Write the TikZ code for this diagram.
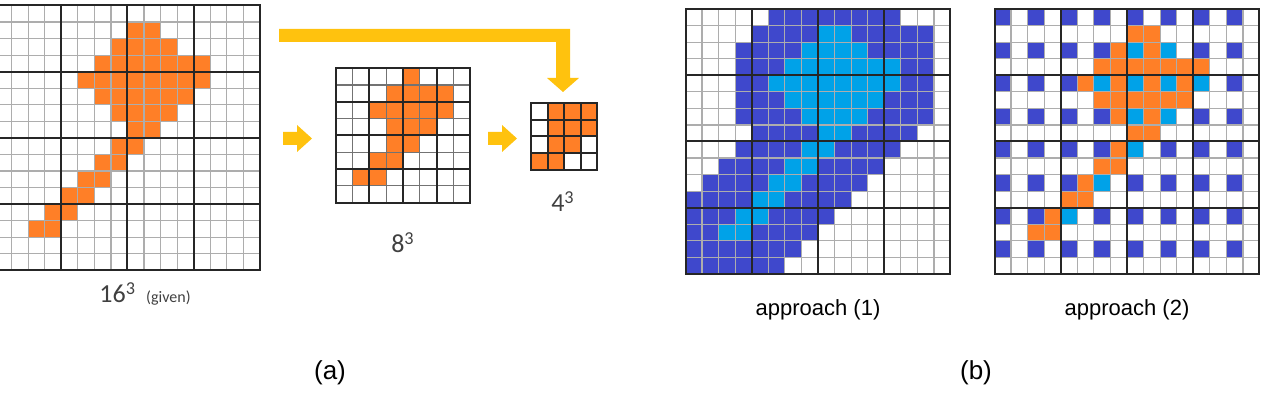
\documentclass[tikz,border=0pt]{standalone}
\usepackage{fontspec}
\setmainfont{Liberation Sans}
\newfontfamily\calfont{Carlito}
\usetikzlibrary{positioning}
\definecolor{vxOrange}{HTML}{FF7F27}
\definecolor{vxBlue}{HTML}{3F48CC}
\definecolor{vxCyan}{HTML}{00A2E8}
\definecolor{vxGold}{HTML}{FFC20E}
\definecolor{vxGrid}{HTML}{ADADAD}
\definecolor{vxText}{HTML}{404040}

% occupied voxels: row/first col/last col
\def\blobrows{1/8/9,2/7/10,3/6/12,4/5/12,5/6/11,6/7/10,7/8/9,8/7/8,9/6/7,10/5/6,11/4/5,12/3/4,13/2/3}
\def\dilrows{0/5/12,1/4/14,2/3/14,3/3/14,4/3/14,5/3/14,6/3/14,7/4/13,8/3/12,9/2/11,10/1/10,11/0/9,12/0/8,13/0/7,14/0/6,15/0/5}
\def\midrows{0/4/4,1/3/6,2/2/6,3/3/5,4/3/4,5/2/3,6/1/2}
\def\lowrows{0/1/3,1/1/3,2/1/2,3/0/1}

\newcommand{\voxrows}[3]{% #1 rows, #2 cell size, #3 colour
  \foreach \ry/\ca/\cb in #1
    \foreach \cx in {\ca,...,\cb}
      \fill[#3] (\cx*#2,\ry*#2) rectangle ++(#2,#2);
}
\newcommand{\voxgrid}[4]{% #1 cells, #2 major step, #3 cell size, #4 minor colour
  \foreach \k in {0,...,#1}{
    \draw[#4,line width=0.6pt] (\k*#3,0) -- (\k*#3,#1*#3);
    \draw[#4,line width=0.6pt] (0,\k*#3) -- (#1*#3,\k*#3);}
  \foreach \k in {0,#2,...,#1}{
    \draw[majline] (\k*#3,0) -- (\k*#3,#1*#3);
    \draw[majline] (0,\k*#3) -- (#1*#3,\k*#3);}
}

\begin{document}
\begin{tikzpicture}[x=0.5pt,y=-0.5pt,line join=miter,
    majline/.style={black!85,line width=1pt,line cap=rect},
    sizelbl/.style={font=\calfont\fontsize{13}{15}\selectfont,text=vxText,inner sep=0pt,anchor=base},
    caplbl/.style={font=\fontsize{11}{13}\selectfont,inner sep=0pt,anchor=base},
    partlbl/.style={font=\fontsize{13}{15}\selectfont,inner sep=0pt,anchor=base}]
  \useasboundingbox (0,0) rectangle (1270,410);
  \clip (0,0) rectangle (1270,410);

  % (a) 16^3 input
  \begin{scope}[shift={(-5,5.5)}]
    \voxrows{\blobrows}{16.56}{vxOrange}
    \voxgrid{16}{4}{16.56}{vxGrid}
  \end{scope}
  % 8^3
  \begin{scope}[shift={(335.7,68.3)}]
    \voxrows{\midrows}{16.8}{vxOrange}
    \voxgrid{8}{2}{16.8}{black!55}
  \end{scope}
  % 4^3
  \begin{scope}[shift={(531,103.3)}]
    \voxrows{\lowrows}{16.6}{vxOrange}
    \voxgrid{4}{1}{16.6}{black}
  \end{scope}

  % block arrows
  \fill[vxGold] (283,132) -- (297,132) -- (297,125) -- (312,138.5)
     -- (297,152) -- (297,145) -- (283,145) -- cycle;
  \fill[vxGold] (488,132) -- (502,132) -- (502,125) -- (517,138.5)
     -- (502,152) -- (502,145) -- (488,145) -- cycle;
  \fill[vxGold] (279,29) -- (570,29) -- (570,78) -- (579,78) -- (563,92)
     -- (547,78) -- (556,78) -- (556,42) -- (279,42) -- cycle;

  \node[sizelbl,anchor=base west] (lbl16) at (99,303)
     {16\textsuperscript{3}\, {\fontsize{8}{9}\selectfont(given)}};
  \node[sizelbl] (lbl8) at (403,253) {8\textsuperscript{3}};
  \node[sizelbl] (lbl4) at (563,212) {4\textsuperscript{3}};

  % (b) approach 1: dilated region around the shape
  \begin{scope}[shift={(685.5,9)}]
    \voxrows{\dilrows}{16.56}{vxBlue}
    \voxrows{\blobrows}{16.56}{vxCyan}
    \voxgrid{16}{4}{16.56}{vxGrid}
  \end{scope}
  % approach 2: regular samples plus the shape
  \begin{scope}[shift={(994.5,9)}]
    \foreach \ry in {0,2,...,14}
      \foreach \cx in {0,2,...,14}
        \fill[vxBlue] (\cx*16.56,\ry*16.56) rectangle ++(16.56,16.56);
    \voxrows{\blobrows}{16.56}{vxOrange}
    \foreach \ry/\cx in {2/8,2/10,4/6,4/8,4/10,4/12,6/8,6/10,8/8,10/6,12/4}
      \fill[vxCyan] (\cx*16.56,\ry*16.56) rectangle ++(16.56,16.56);
    \voxgrid{16}{4}{16.56}{vxGrid}
  \end{scope}

  \node[caplbl] (app1) at (818,316) {approach (1)};
  \node[caplbl] (app2) at (1127,316) {approach (2)};
  \node[partlbl] (parta) at (330,380) {(a)};
  \node[partlbl] (partb) at (976,380) {(b)};
\end{tikzpicture}
\end{document}
